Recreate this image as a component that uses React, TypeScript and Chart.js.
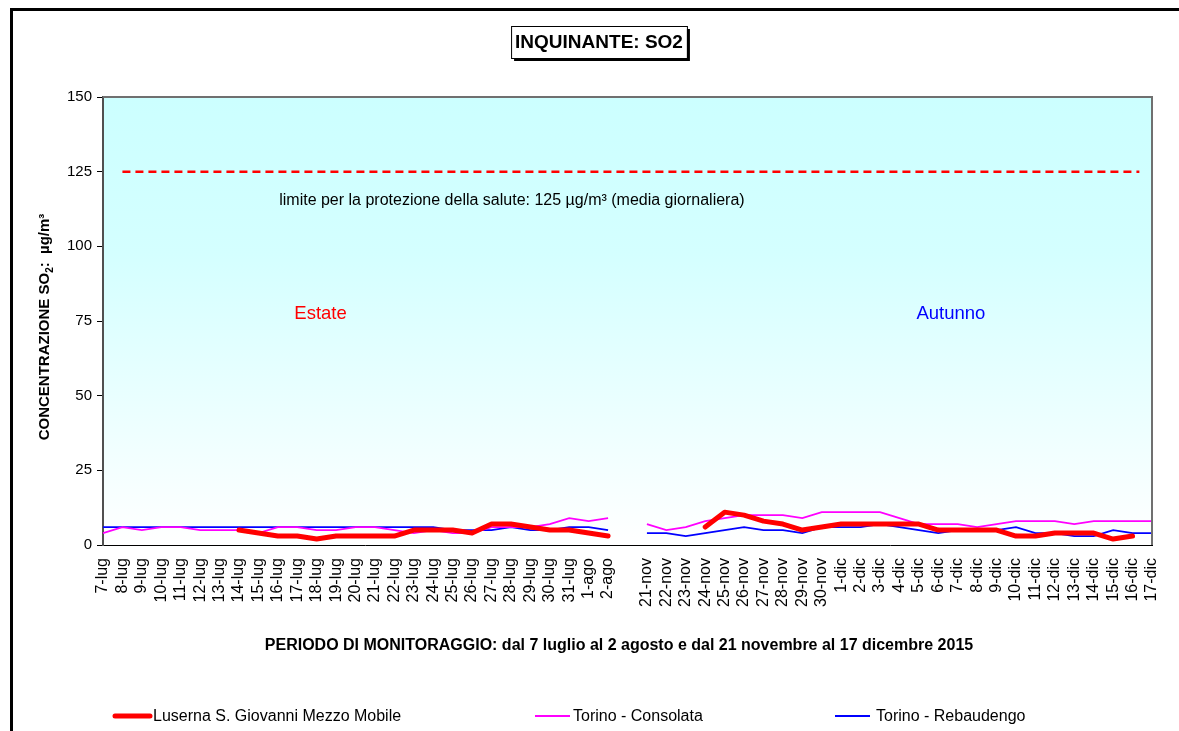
import React, { useEffect, useRef } from 'react';
import { Chart, registerables } from 'chart.js';

Chart.register(...registerables);

const SUMMER_LABELS = [
  '7-lug', '8-lug', '9-lug', '10-lug', '11-lug', '12-lug', '13-lug', '14-lug', '15-lug', '16-lug',
  '17-lug', '18-lug', '19-lug', '20-lug', '21-lug', '22-lug', '23-lug', '24-lug', '25-lug', '26-lug',
  '27-lug', '28-lug', '29-lug', '30-lug', '31-lug', '1-ago', '2-ago',
];
const AUTUMN_LABELS = [
  '21-nov', '22-nov', '23-nov', '24-nov', '25-nov', '26-nov', '27-nov', '28-nov', '29-nov', '30-nov',
  '1-dic', '2-dic', '3-dic', '4-dic', '5-dic', '6-dic', '7-dic', '8-dic', '9-dic', '10-dic',
  '11-dic', '12-dic', '13-dic', '14-dic', '15-dic', '16-dic', '17-dic',
];
const CATEGORIES = [...SUMMER_LABELS, '', ...AUTUMN_LABELS];

const LUSERNA_SUMMER = [null, null, null, null, null, null, null, 5, 4, 3, 3, 2, 3, 3, 3, 3, 5, 5, 5, 4, 7, 7, 6, 5, 5, 4, 3];
const LUSERNA_AUTUMN = [null, null, null, 6, 11, 10, 8, 7, 5, 6, 7, 7, 7, 7, 7, 5, 5, 5, 5, 3, 3, 4, 4, 4, 2, 3, null];
const CONSOLATA_SUMMER = [4, 6, 5, 6, 6, 5, 5, 5, 4, 6, 6, 5, 5, 6, 6, 5, 4, 5, 4, 4, 6, 6, 6, 7, 9, 8, 9];
const CONSOLATA_AUTUMN = [7, 5, 6, 8, 9, 10, 10, 10, 9, 11, 11, 11, 11, 9, 7, 7, 7, 6, 7, 8, 8, 8, 7, 8, 8, 8, 8];
const REBAUDENGO_SUMMER = [6, 6, 6, 6, 6, 6, 6, 6, 6, 6, 6, 6, 6, 6, 6, 6, 6, 6, 5, 5, 5, 6, 5, 5, 6, 6, 5];
const REBAUDENGO_AUTUMN = [4, 4, 3, 4, 5, 6, 5, 5, 4, 6, 6, 6, 7, 6, 5, 4, 5, 5, 5, 6, 4, 4, 3, 3, 5, 4, 4];

const SERIES_NAMES = ['Luserna S. Giovanni Mezzo Mobile', 'Torino - Consolata', 'Torino - Rebaudengo'];
const SERIES_COLORS = ['#FF0000', '#FF00FF', '#0000FF'];

const LIMIT_VALUE = 125;
const Y_TICKS = [0, 25, 50, 75, 100, 125, 150];

const TITLE = 'INQUINANTE: SO2';
const X_TITLE = 'PERIODO DI MONITORAGGIO: dal 7 luglio al 2 agosto e dal 21 novembre al 17 dicembre 2015';
const LIMIT_TEXT = 'limite per la protezione della salute: 125 µg/m³ (media giornaliera)';
const SEASON_TEXTS = ['Estate', 'Autunno'];

const FONT = '"Liberation Sans", Arial, sans-serif';

const join = (a: (number | null)[], b: (number | null)[]) => [...a, null, ...b];

export default function App() {
  const ref = useRef<HTMLCanvasElement | null>(null);

  useEffect(() => {
    const canvas = ref.current;
    if (!canvas) return;

    const decor = {
      id: 'decor',
      beforeDraw(chart: any) {
        const { ctx, chartArea: a } = chart;
        ctx.save();
        ctx.fillStyle = '#ffffff';
        ctx.fillRect(0, 0, chart.width, chart.height);
        const g = ctx.createLinearGradient(0, a.top, 0, a.bottom);
        g.addColorStop(0, '#CCFFFF');
        g.addColorStop(0.35, '#D4FFFF');
        g.addColorStop(1, '#FFFFFF');
        ctx.fillStyle = g;
        ctx.fillRect(a.left, a.top, a.right - a.left, a.bottom - a.top);
        // outer frame
        ctx.strokeStyle = '#000';
        ctx.lineWidth = 3;
        ctx.beginPath();
        ctx.moveTo(chart.width, 9.5);
        ctx.lineTo(11.5, 9.5);
        ctx.lineTo(11.5, chart.height);
        ctx.stroke();
        ctx.restore();
      },
      beforeDatasetsDraw(chart: any) {
        const { ctx, scales } = chart;
        const y = scales.y.getPixelForValue(LIMIT_VALUE);
        const x0 = scales.x.getPixelForValue(1);
        const x1 = scales.x.getPixelForValue(53.35);
        ctx.save();
        ctx.strokeStyle = '#FF0000';
        ctx.lineWidth = 2.5;
        ctx.setLineDash([8, 5]);
        ctx.beginPath();
        ctx.moveTo(x0, y);
        ctx.lineTo(x1, y);
        ctx.stroke();
        ctx.restore();
      },
      afterDraw(chart: any) {
        const { ctx, chartArea: a, scales } = chart;
        ctx.save();
        // plot frame top/right
        ctx.strokeStyle = '#707070';
        ctx.lineWidth = 2;
        ctx.beginPath();
        ctx.moveTo(a.left, a.top);
        ctx.lineTo(a.right, a.top);
        ctx.lineTo(a.right, a.bottom);
        ctx.stroke();

        // title box
        const tcx = 599;
        const tcy = 42;
        ctx.font = `bold 19px ${FONT}`;
        const tw = ctx.measureText(TITLE).width;
        const bw = tw + 8;
        const bh = 32;
        ctx.fillStyle = '#000';
        ctx.fillRect(tcx - bw / 2 + 3, tcy - bh / 2 + 3, bw, bh);
        ctx.fillStyle = '#fff';
        ctx.fillRect(tcx - bw / 2, tcy - bh / 2, bw, bh);
        ctx.strokeStyle = '#000';
        ctx.lineWidth = 1;
        ctx.strokeRect(tcx - bw / 2 + 0.5, tcy - bh / 2 + 0.5, bw, bh);
        ctx.fillStyle = '#000';
        ctx.textAlign = 'center';
        ctx.textBaseline = 'middle';
        ctx.fillText(TITLE, tcx, tcy + 1);

        // limit text and season labels
        ctx.font = `16px ${FONT}`;
        ctx.fillStyle = '#000';
        ctx.fillText(LIMIT_TEXT, scales.x.getPixelForValue(21.05), scales.y.getPixelForValue(115.2));
        ctx.font = `18.5px ${FONT}`;
        ctx.fillStyle = '#FF0000';
        ctx.fillText(SEASON_TEXTS[0], scales.x.getPixelForValue(11.2), scales.y.getPixelForValue(77.3));
        ctx.fillStyle = '#0000FF';
        ctx.fillText(SEASON_TEXTS[1], scales.x.getPixelForValue(43.65), scales.y.getPixelForValue(77.3));

        // x title
        ctx.fillStyle = '#000';
        ctx.font = `bold 16px ${FONT}`;
        ctx.fillText(X_TITLE, 619, 646);

        // y title with subscript
        ctx.save();
        ctx.translate(45, 327);
        ctx.rotate(-Math.PI / 2);
        const p1 = 'CONCENTRAZIONE SO';
        const p2 = '2';
        const p3 = ':  µg/m³';
        ctx.font = `bold 15px ${FONT}`;
        const w1 = ctx.measureText(p1).width;
        const w3 = ctx.measureText(p3).width;
        ctx.font = `bold 10px ${FONT}`;
        const w2 = ctx.measureText(p2).width;
        let x = -(w1 + w2 + w3) / 2;
        ctx.textAlign = 'left';
        ctx.font = `bold 15px ${FONT}`;
        ctx.fillText(p1, x, 0);
        x += w1;
        ctx.font = `bold 10px ${FONT}`;
        ctx.fillText(p2, x, 5);
        x += w2;
        ctx.font = `bold 15px ${FONT}`;
        ctx.fillText(p3, x, 0);
        ctx.restore();

        // legend
        const legendY = 716;
        const items = [
          { x: 115, w: 5 },
          { x: 535, w: 2 },
          { x: 835, w: 2 },
        ];
        ctx.font = `16px ${FONT}`;
        ctx.textAlign = 'left';
        ctx.textBaseline = 'middle';
        items.forEach((it, i) => {
          ctx.strokeStyle = SERIES_COLORS[i];
          ctx.lineWidth = it.w;
          ctx.lineCap = i === 0 ? 'round' : 'butt';
          ctx.beginPath();
          ctx.moveTo(it.x, legendY);
          ctx.lineTo(it.x + 35, legendY);
          ctx.stroke();
          ctx.fillStyle = '#000';
          ctx.fillText(SERIES_NAMES[i], it.x + 38 + (i === 2 ? 3 : 0), legendY + 1);
        });
        ctx.restore();
      },
    };

    const chart = new Chart(canvas, {
      type: 'line',
      data: {
        labels: CATEGORIES,
        datasets: [
          {
            label: SERIES_NAMES[0],
            data: join(LUSERNA_SUMMER, LUSERNA_AUTUMN),
            borderColor: SERIES_COLORS[0],
            backgroundColor: SERIES_COLORS[0],
            borderWidth: 5,
            borderCapStyle: 'round',
            borderJoinStyle: 'round',
            pointRadius: 0,
            tension: 0,
          },
          {
            label: SERIES_NAMES[1],
            data: join(CONSOLATA_SUMMER, CONSOLATA_AUTUMN),
            borderColor: SERIES_COLORS[1],
            backgroundColor: SERIES_COLORS[1],
            borderWidth: 1.8,
            pointRadius: 0,
            tension: 0,
          },
          {
            label: SERIES_NAMES[2],
            data: join(REBAUDENGO_SUMMER, REBAUDENGO_AUTUMN),
            borderColor: SERIES_COLORS[2],
            backgroundColor: SERIES_COLORS[2],
            borderWidth: 1.8,
            pointRadius: 0,
            tension: 0,
          },
        ],
      },
      options: {
        animation: false,
        responsive: false,
        devicePixelRatio: 1,
        spanGaps: false,
        layout: { padding: { left: 0, right: 27, top: 97, bottom: 0 } },
        plugins: {
          legend: { display: false },
          title: { display: false },
          tooltip: { enabled: false },
        },
        scales: {
          x: {
            type: 'category',
            offset: false,
            grid: { display: false, drawTicks: false },
            border: { display: true, color: '#000', width: 1 },
            ticks: {
              autoSkip: false,
              minRotation: 90,
              maxRotation: 90,
              padding: 13,
              color: '#000',
              font: { family: FONT, size: 16 },
            },
            afterFit(scale: any) {
              scale.height = 186;
              scale.paddingLeft = 0;
              scale.paddingRight = 0;
            },
          },
          y: {
            min: 0,
            max: 150,
            afterBuildTicks(scale: any) {
              scale.ticks = Y_TICKS.map((v) => ({ value: v }));
            },
            grid: { display: true, drawOnChartArea: false, drawTicks: true, tickLength: 6, color: '#000' },
            border: { display: true, color: '#505050', width: 2 },
            ticks: {
              padding: 5,
              color: '#000',
              font: { family: FONT, size: 15 },
            },
            afterFit(scale: any) {
              scale.width = 103;
              scale.paddingTop = 0;
              scale.paddingBottom = 0;
            },
          },
        },
      },
      plugins: [decor],
    } as any);

    return () => chart.destroy();
  }, []);

  return (
    <div style={{ position: 'fixed', left: 0, top: 0, width: 1179, height: 731, background: '#fff' }}>
      <canvas ref={ref} width={1179} height={731} style={{ display: 'block', width: 1179, height: 731 }} />
    </div>
  );
}
